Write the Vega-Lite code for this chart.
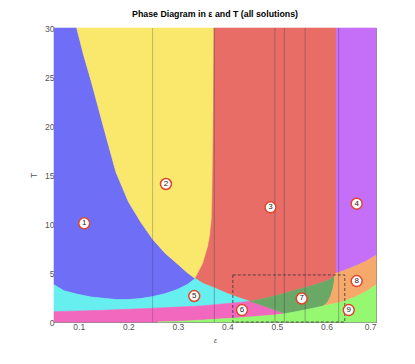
{
  "$schema": "https://vega.github.io/schema/vega-lite/v6.json",
  "autosize": "none",
  "width": 322,
  "height": 294,
  "padding": {"left": 54, "top": 28, "right": 39, "bottom": 42},
  "background": "white",
  "config": {
    "view": {"stroke": "#8a8a8a", "strokeWidth": 1},
    "font": "Liberation Sans"
  },
  "title": {
    "text": "Phase Diagram in ε and T (all solutions)",
    "fontSize": 8.8,
    "fontWeight": "bold",
    "color": "#000000",
    "font": "Liberation Sans",
    "offset": 5,
    "anchor": "middle"
  },
  "datasets": {
    "regions": [
      {"region": "1", "x": 0.05, "lo": 3.8, "hi": 30},
      {"region": "1", "x": 0.07, "lo": 3.2, "hi": 30},
      {"region": "1", "x": 0.0958, "lo": 2.85, "hi": 30},
      {"region": "1", "x": 0.11, "lo": 2.7, "hi": 27.2},
      {"region": "1", "x": 0.125, "lo": 2.55, "hi": 24.6},
      {"region": "1", "x": 0.15, "lo": 2.42, "hi": 19.9},
      {"region": "1", "x": 0.175, "lo": 2.3, "hi": 15.3},
      {"region": "1", "x": 0.2, "lo": 2.3, "hi": 12.3},
      {"region": "1", "x": 0.225, "lo": 2.4, "hi": 10.2},
      {"region": "1", "x": 0.25, "lo": 2.6, "hi": 8.4},
      {"region": "1", "x": 0.275, "lo": 2.9, "hi": 7.0},
      {"region": "1", "x": 0.3, "lo": 3.35, "hi": 5.9},
      {"region": "1", "x": 0.32, "lo": 3.85, "hi": 5.0},
      {"region": "1", "x": 0.335, "lo": 4.45, "hi": 4.45},

      {"region": "2", "x": 0.0958, "lo": 30, "hi": 30},
      {"region": "2", "x": 0.11, "lo": 27.2, "hi": 30},
      {"region": "2", "x": 0.125, "lo": 24.6, "hi": 30},
      {"region": "2", "x": 0.15, "lo": 19.9, "hi": 30},
      {"region": "2", "x": 0.175, "lo": 15.3, "hi": 30},
      {"region": "2", "x": 0.2, "lo": 12.3, "hi": 30},
      {"region": "2", "x": 0.225, "lo": 10.2, "hi": 30},
      {"region": "2", "x": 0.25, "lo": 8.4, "hi": 30},
      {"region": "2", "x": 0.275, "lo": 7.0, "hi": 30},
      {"region": "2", "x": 0.3, "lo": 5.9, "hi": 30},
      {"region": "2", "x": 0.32, "lo": 5.0, "hi": 30},
      {"region": "2", "x": 0.335, "lo": 4.45, "hi": 30},
      {"region": "2", "x": 0.341, "lo": 5.0, "hi": 30},
      {"region": "2", "x": 0.351, "lo": 6.0, "hi": 30},
      {"region": "2", "x": 0.361, "lo": 7.7, "hi": 30},
      {"region": "2", "x": 0.365, "lo": 8.8, "hi": 30},
      {"region": "2", "x": 0.3686, "lo": 10.5, "hi": 30},
      {"region": "2", "x": 0.3706, "lo": 15.5, "hi": 30},
      {"region": "2", "x": 0.372, "lo": 22, "hi": 30},
      {"region": "2", "x": 0.373, "lo": 30, "hi": 30},

      {"region": "3", "x": 0.335, "lo": 4.45, "hi": 4.45},
      {"region": "3", "x": 0.341, "lo": 4.25, "hi": 5.0},
      {"region": "3", "x": 0.351, "lo": 3.93, "hi": 6.0},
      {"region": "3", "x": 0.361, "lo": 3.72, "hi": 7.7},
      {"region": "3", "x": 0.365, "lo": 3.64, "hi": 8.8},
      {"region": "3", "x": 0.3686, "lo": 3.58, "hi": 10.5},
      {"region": "3", "x": 0.3706, "lo": 3.54, "hi": 15.5},
      {"region": "3", "x": 0.372, "lo": 3.52, "hi": 22},
      {"region": "3", "x": 0.373, "lo": 3.5, "hi": 30},
      {"region": "3", "x": 0.4, "lo": 2.9, "hi": 30},
      {"region": "3", "x": 0.425, "lo": 2.45, "hi": 30},
      {"region": "3", "x": 0.445, "lo": 2.12, "hi": 30},
      {"region": "3", "x": 0.47, "lo": 2.35, "hi": 30},
      {"region": "3", "x": 0.495, "lo": 2.66, "hi": 30},
      {"region": "3", "x": 0.506, "lo": 2.8, "hi": 30},
      {"region": "3", "x": 0.516, "lo": 2.94, "hi": 30},
      {"region": "3", "x": 0.54, "lo": 3.3, "hi": 30},
      {"region": "3", "x": 0.573, "lo": 3.75, "hi": 30},
      {"region": "3", "x": 0.593, "lo": 4.07, "hi": 30},
      {"region": "3", "x": 0.6, "lo": 4.2, "hi": 30},
      {"region": "3", "x": 0.603, "lo": 4.27, "hi": 30},
      {"region": "3", "x": 0.609, "lo": 4.4, "hi": 30},
      {"region": "3", "x": 0.613, "lo": 4.55, "hi": 30},
      {"region": "3", "x": 0.616, "lo": 4.75, "hi": 30},
      {"region": "3", "x": 0.617, "lo": 4.9, "hi": 30},
      {"region": "3", "x": 0.62, "lo": 5.0, "hi": 30},

      {"region": "4", "x": 0.62, "lo": 5.0, "hi": 30},
      {"region": "4", "x": 0.633, "lo": 5.2, "hi": 30},
      {"region": "4", "x": 0.64, "lo": 5.35, "hi": 30},
      {"region": "4", "x": 0.66, "lo": 5.75, "hi": 30},
      {"region": "4", "x": 0.68, "lo": 6.2, "hi": 30},
      {"region": "4", "x": 0.7, "lo": 6.8, "hi": 30},

      {"region": "5", "x": 0.05, "lo": 1.05, "hi": 3.8},
      {"region": "5", "x": 0.07, "lo": 1.08, "hi": 3.2},
      {"region": "5", "x": 0.0958, "lo": 1.12, "hi": 2.85},
      {"region": "5", "x": 0.11, "lo": 1.14, "hi": 2.7},
      {"region": "5", "x": 0.125, "lo": 1.16, "hi": 2.55},
      {"region": "5", "x": 0.15, "lo": 1.2, "hi": 2.42},
      {"region": "5", "x": 0.175, "lo": 1.25, "hi": 2.3},
      {"region": "5", "x": 0.2, "lo": 1.3, "hi": 2.3},
      {"region": "5", "x": 0.225, "lo": 1.35, "hi": 2.4},
      {"region": "5", "x": 0.25, "lo": 1.4, "hi": 2.6},
      {"region": "5", "x": 0.275, "lo": 1.46, "hi": 2.9},
      {"region": "5", "x": 0.3, "lo": 1.52, "hi": 3.35},
      {"region": "5", "x": 0.32, "lo": 1.57, "hi": 3.85},
      {"region": "5", "x": 0.335, "lo": 1.61, "hi": 4.45},
      {"region": "5", "x": 0.341, "lo": 1.63, "hi": 4.25},
      {"region": "5", "x": 0.351, "lo": 1.66, "hi": 3.93},
      {"region": "5", "x": 0.373, "lo": 1.76, "hi": 3.5},
      {"region": "5", "x": 0.4, "lo": 1.88, "hi": 2.9},
      {"region": "5", "x": 0.425, "lo": 2.0, "hi": 2.45},
      {"region": "5", "x": 0.445, "lo": 2.12, "hi": 2.12},

      {"region": "6", "x": 0.05, "lo": 0, "hi": 1.05},
      {"region": "6", "x": 0.15, "lo": 0, "hi": 1.2},
      {"region": "6", "x": 0.2, "lo": 0, "hi": 1.3},
      {"region": "6", "x": 0.25, "lo": 0, "hi": 1.4},
      {"region": "6", "x": 0.26, "lo": 0, "hi": 1.42},
      {"region": "6", "x": 0.3, "lo": 0.06, "hi": 1.52},
      {"region": "6", "x": 0.335, "lo": 0.16, "hi": 1.61},
      {"region": "6", "x": 0.351, "lo": 0.2, "hi": 1.66},
      {"region": "6", "x": 0.373, "lo": 0.27, "hi": 1.76},
      {"region": "6", "x": 0.4, "lo": 0.35, "hi": 1.88},
      {"region": "6", "x": 0.425, "lo": 0.43, "hi": 2.0},
      {"region": "6", "x": 0.445, "lo": 0.52, "hi": 2.12},
      {"region": "6", "x": 0.47, "lo": 0.62, "hi": 1.7},
      {"region": "6", "x": 0.495, "lo": 0.72, "hi": 1.25},
      {"region": "6", "x": 0.516, "lo": 0.85, "hi": 0.85},

      {"region": "7", "x": 0.445, "lo": 2.12, "hi": 2.12},
      {"region": "7", "x": 0.47, "lo": 1.7, "hi": 2.35},
      {"region": "7", "x": 0.495, "lo": 1.25, "hi": 2.66},
      {"region": "7", "x": 0.506, "lo": 1.04, "hi": 2.8},
      {"region": "7", "x": 0.516, "lo": 0.85, "hi": 2.94},
      {"region": "7", "x": 0.54, "lo": 1.06, "hi": 3.3},
      {"region": "7", "x": 0.573, "lo": 1.4, "hi": 3.75},
      {"region": "7", "x": 0.593, "lo": 1.62, "hi": 4.07},
      {"region": "7", "x": 0.6, "lo": 1.9, "hi": 4.2},
      {"region": "7", "x": 0.603, "lo": 2.1, "hi": 4.27},
      {"region": "7", "x": 0.609, "lo": 2.7, "hi": 4.4},
      {"region": "7", "x": 0.613, "lo": 3.4, "hi": 4.55},
      {"region": "7", "x": 0.616, "lo": 4.2, "hi": 4.75},
      {"region": "7", "x": 0.617, "lo": 4.9, "hi": 4.9},

      {"region": "8", "x": 0.593, "lo": 1.62, "hi": 1.62},
      {"region": "8", "x": 0.6, "lo": 1.7, "hi": 1.9},
      {"region": "8", "x": 0.603, "lo": 1.73, "hi": 2.1},
      {"region": "8", "x": 0.609, "lo": 1.8, "hi": 2.7},
      {"region": "8", "x": 0.613, "lo": 1.85, "hi": 3.4},
      {"region": "8", "x": 0.616, "lo": 1.88, "hi": 4.2},
      {"region": "8", "x": 0.617, "lo": 1.89, "hi": 4.9},
      {"region": "8", "x": 0.62, "lo": 1.92, "hi": 5.0},
      {"region": "8", "x": 0.633, "lo": 2.07, "hi": 5.2},
      {"region": "8", "x": 0.64, "lo": 2.2, "hi": 5.35},
      {"region": "8", "x": 0.66, "lo": 2.6, "hi": 5.75},
      {"region": "8", "x": 0.68, "lo": 3.1, "hi": 6.2},
      {"region": "8", "x": 0.7, "lo": 3.8, "hi": 6.8},

      {"region": "9", "x": 0.26, "lo": 0, "hi": 0},
      {"region": "9", "x": 0.3, "lo": 0, "hi": 0.06},
      {"region": "9", "x": 0.335, "lo": 0, "hi": 0.16},
      {"region": "9", "x": 0.351, "lo": 0, "hi": 0.2},
      {"region": "9", "x": 0.373, "lo": 0, "hi": 0.27},
      {"region": "9", "x": 0.4, "lo": 0, "hi": 0.35},
      {"region": "9", "x": 0.425, "lo": 0, "hi": 0.43},
      {"region": "9", "x": 0.445, "lo": 0, "hi": 0.52},
      {"region": "9", "x": 0.47, "lo": 0, "hi": 0.62},
      {"region": "9", "x": 0.495, "lo": 0, "hi": 0.72},
      {"region": "9", "x": 0.516, "lo": 0, "hi": 0.85},
      {"region": "9", "x": 0.54, "lo": 0, "hi": 1.06},
      {"region": "9", "x": 0.573, "lo": 0, "hi": 1.4},
      {"region": "9", "x": 0.593, "lo": 0, "hi": 1.62},
      {"region": "9", "x": 0.6, "lo": 0, "hi": 1.7},
      {"region": "9", "x": 0.62, "lo": 0, "hi": 1.92},
      {"region": "9", "x": 0.633, "lo": 0, "hi": 2.07},
      {"region": "9", "x": 0.64, "lo": 0, "hi": 2.2},
      {"region": "9", "x": 0.66, "lo": 0, "hi": 2.6},
      {"region": "9", "x": 0.68, "lo": 0, "hi": 3.1},
      {"region": "9", "x": 0.7, "lo": 0, "hi": 3.8}
    ],
    "lines": [
      {"x": 0.249, "kind": "light"},
      {"x": 0.3736, "kind": "dark"},
      {"x": 0.496, "kind": "dark"},
      {"x": 0.515, "kind": "dark"},
      {"x": 0.557, "kind": "dark"},
      {"x": 0.6247, "kind": "dark"}
    ],
    "box": [
      {"x1": 0.411, "x2": 0.637, "y1": 0, "y2": 4.8}
    ],
    "labels": [
      {"label": "1", "x": 0.111, "T": 10.07},
      {"label": "2", "x": 0.276, "T": 14.08},
      {"label": "3", "x": 0.487, "T": 11.7},
      {"label": "4", "x": 0.661, "T": 12.07},
      {"label": "5", "x": 0.333, "T": 2.65},
      {"label": "6", "x": 0.4295, "T": 1.22},
      {"label": "7", "x": 0.55, "T": 2.4},
      {"label": "8", "x": 0.661, "T": 4.18},
      {"label": "9", "x": 0.645, "T": 1.22}
    ]
  },
  "resolve": {"axis": {"x": "independent", "y": "independent"}},
  "layer": [
    {
      "data": {"name": "regions"},
      "mark": {"type": "area", "strokeWidth": 0.6, "opacity": 1},
      "encoding": {
        "x": {
          "field": "x", "type": "quantitative",
          "scale": {"domain": [0.05, 0.7], "nice": false, "zero": false},
          "axis": {
            "title": "ε", "titleFontSize": 8, "titleFontWeight": "normal", "titleColor": "#555555",
            "titleFontStyle": "italic", "titlePadding": 6,
            "values": [0.1, 0.2, 0.3, 0.4, 0.5, 0.6, 0.7], "format": ".1f",
            "labelFontSize": 8.5, "labelColor": "#555555", "labelPadding": 3,
            "tickSize": -3, "tickColor": "#8a8a8a", "domainColor": "#8a8a8a", "grid": false
          }
        },
        "y": {
          "field": "hi", "type": "quantitative",
          "scale": {"domain": [0, 30], "nice": false, "zero": false},
          "axis": {
            "title": "T", "titleFontSize": 8.5, "titleFontWeight": "normal", "titleColor": "#555555",
            "titlePadding": 6,
            "values": [0, 5, 10, 15, 20, 25, 30],
            "labelFontSize": 8.5, "labelColor": "#555555", "labelPadding": 3,
            "tickSize": -3, "tickColor": "#8a8a8a", "domainColor": "#8a8a8a", "grid": false
          }
        },
        "y2": {"field": "lo"},
        "color": {
          "field": "region", "type": "nominal", "legend": null,
          "scale": {
            "domain": ["1", "2", "3", "4", "5", "6", "7", "8", "9"],
            "range": ["#6E6EF6", "#F9E86C", "#E96D67", "#C56FF8", "#67EEEE", "#F268BF", "#69A865", "#F7A96B", "#96F870"]
          }
        },
        "stroke": {
          "field": "region", "type": "nominal", "legend": null,
          "scale": {
            "domain": ["1", "2", "3", "4", "5", "6", "7", "8", "9"],
            "range": ["#6E6EF6", "#F9E86C", "#E96D67", "#C56FF8", "#67EEEE", "#F268BF", "#69A865", "#F7A96B", "#96F870"]
          }
        }
      }
    },
    {
      "data": {"name": "lines"},
      "mark": {"type": "rule", "strokeWidth": 1},
      "encoding": {
        "x": {"field": "x", "type": "quantitative", "axis": null},
        "strokeOpacity": {
          "field": "kind", "type": "nominal", "legend": null,
          "scale": {"domain": ["light", "dark"], "range": [0.3, 0.4]}
        },
        "color": {"value": "#404050"}
      }
    },
    {
      "data": {"name": "box"},
      "mark": {"type": "rect", "filled": false, "stroke": "#333333", "strokeWidth": 0.8, "strokeDash": [3, 2]},
      "encoding": {
        "x": {"field": "x1", "type": "quantitative", "axis": null},
        "x2": {"field": "x2"},
        "y": {"field": "y1", "type": "quantitative", "axis": null},
        "y2": {"field": "y2"}
      }
    },
    {
      "data": {"name": "labels"},
      "mark": {"type": "point", "filled": true, "fill": "white", "stroke": "#E0452A", "strokeWidth": 1.5, "size": 120, "opacity": 1},
      "encoding": {
        "x": {"field": "x", "type": "quantitative", "axis": null},
        "y": {"field": "T", "type": "quantitative", "axis": null}
      }
    },
    {
      "data": {"name": "labels"},
      "mark": {"type": "text", "fontSize": 8, "color": "#222222", "align": "center", "baseline": "middle"},
      "encoding": {
        "x": {"field": "x", "type": "quantitative", "axis": null},
        "y": {"field": "T", "type": "quantitative", "axis": null},
        "text": {"field": "label"}
      }
    },
    {
      "data": {"name": "box"},
      "mark": {"type": "point", "opacity": 0},
      "encoding": {
        "x": {"field": "x1", "type": "quantitative", "axis": {"orient": "top", "labels": false, "title": null, "values": [0.1, 0.2, 0.3, 0.4, 0.5, 0.6, 0.7], "tickSize": -3, "tickColor": "#8a8a8a", "domainColor": "#8a8a8a", "grid": false}},
        "y": {"field": "y1", "type": "quantitative", "axis": {"orient": "right", "labels": false, "title": null, "values": [0, 5, 10, 15, 20, 25, 30], "tickSize": -3, "tickColor": "#8a8a8a", "domainColor": "#8a8a8a", "grid": false}}
      }
    }
  ]
}
